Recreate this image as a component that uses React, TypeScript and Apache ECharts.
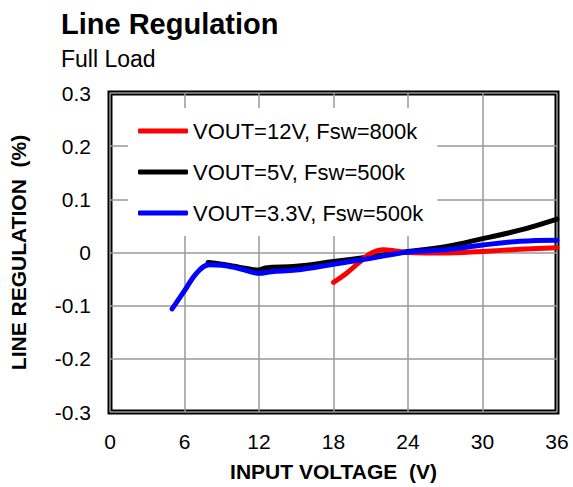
import React, { useEffect, useRef } from "react";
import * as echarts from "echarts";

const xTicks = [0, 6, 12, 18, 24, 30, 36];
const seriesNames = ["VOUT=12V, Fsw=800k", "VOUT=5V, Fsw=500k", "VOUT=3.3V, Fsw=500k"];

const redX = [18, 19, 20, 21, 22, 23, 24, 27, 30, 33, 36];
const redY = [-0.056, -0.04, -0.02, -0.002, 0.005, 0.003, 0.0, -0.001, 0.002, 0.006, 0.009];

const blackX = [7.9, 9, 10, 11, 12, 12.5, 15, 18, 21, 24, 27, 30, 33, 36];
const blackY = [-0.019, -0.022, -0.026, -0.03, -0.033, -0.029, -0.026, -0.017, -0.008, 0.002, 0.011, 0.026, 0.042, 0.063];

const blueX = [5, 6, 7, 8, 9, 10, 11, 12, 13, 15, 18, 21, 24, 27, 30, 33, 36];
const blueY = [-0.106, -0.072, -0.038, -0.023, -0.024, -0.028, -0.034, -0.039, -0.036, -0.033, -0.022, -0.011, 0.001, 0.005, 0.014, 0.021, 0.023];

const FONT = "'Liberation Sans', Arial, Helvetica, sans-serif";

function pairs(xs: number[], ys: number[]) {
  return xs.map((x, i) => [x, ys[i]]);
}

export default function App() {
  const ref = useRef<HTMLDivElement>(null);
  useEffect(() => {
    if (!ref.current) return;
    const chart = echarts.init(ref.current, null, { renderer: "svg" });
    chart.setOption({
      animation: false,
      backgroundColor: "#ffffff",
      title: {
        text: "Line Regulation",
        subtext: "Full Load",
        left: 61,
        top: 9,
        padding: 0,
        itemGap: 9,
        textStyle: { fontFamily: FONT, fontSize: 29, fontWeight: "bold", color: "#000" },
        subtextStyle: { fontFamily: FONT, fontSize: 23, color: "#000" },
      },
      legend: {
        data: seriesNames,
        orient: "vertical",
        left: 128,
        top: 108,
        padding: [12, 14, 12, 10],
        itemGap: 19,
        itemWidth: 50,
        itemHeight: 5,
        icon: "roundRect",
        backgroundColor: "#ffffff",
        textStyle: { fontFamily: FONT, fontSize: 22, color: "#000" },
      },
      grid: {
        left: 109.5,
        right: 16,
        top: 93,
        bottom: 74,
        show: true,
        borderColor: "#000",
        borderWidth: 5,
      },
      xAxis: {
        type: "value",
        min: 0,
        max: 36,
        interval: 6,
        name: "INPUT VOLTAGE  (V)",
        nameLocation: "middle",
        nameGap: 49,
        nameTextStyle: { fontFamily: FONT, fontSize: 21, fontWeight: "bold", color: "#000" },
        axisLine: { show: false },
        axisTick: { show: false },
        axisLabel: {
          margin: 19,
          fontFamily: FONT,
          fontSize: 21,
          color: "#000",
          formatter: (v: number) => (xTicks.includes(v) ? String(v) : ""),
        },
        splitLine: { show: true, lineStyle: { color: "#999", width: 1.5 } },
      },
      yAxis: {
        type: "value",
        min: -0.3,
        max: 0.3,
        interval: 0.1,
        name: "LINE REGULATION  (%)",
        nameLocation: "middle",
        nameGap: 81,
        nameTextStyle: { fontFamily: FONT, fontSize: 21, fontWeight: "bold", color: "#000" },
        axisLine: { show: false },
        axisTick: { show: false },
        axisLabel: {
          margin: 19,
          fontFamily: FONT,
          fontSize: 21,
          color: "#000",
          formatter: (v: number) => String(Math.round(v * 10) / 10),
        },
        splitLine: { show: true, lineStyle: { color: "#999", width: 1.5 } },
      },
      series: [
        {
          name: seriesNames[1],
          type: "line",
          data: pairs(blackX, blackY),
          smooth: 0.4,
          showSymbol: false,
          color: "#000000",
          lineStyle: { width: 5, color: "#000000", cap: "round", join: "round" },
          z: 2,
        },
        {
          name: seriesNames[0],
          type: "line",
          data: pairs(redX, redY),
          smooth: 0.4,
          showSymbol: false,
          color: "#ff0000",
          lineStyle: { width: 5, color: "#ff0000", cap: "round", join: "round" },
          z: 3,
        },
        {
          name: seriesNames[2],
          type: "line",
          data: pairs(blueX, blueY),
          smooth: 0.4,
          showSymbol: false,
          color: "#0000ff",
          lineStyle: { width: 5, color: "#0000ff", cap: "round", join: "round" },
          z: 4,
        },
      ],
    });
    return () => chart.dispose();
  }, []);
  return <div ref={ref} style={{ width: 573, height: 487, position: "absolute", left: 0, top: 0 }} />;
}
